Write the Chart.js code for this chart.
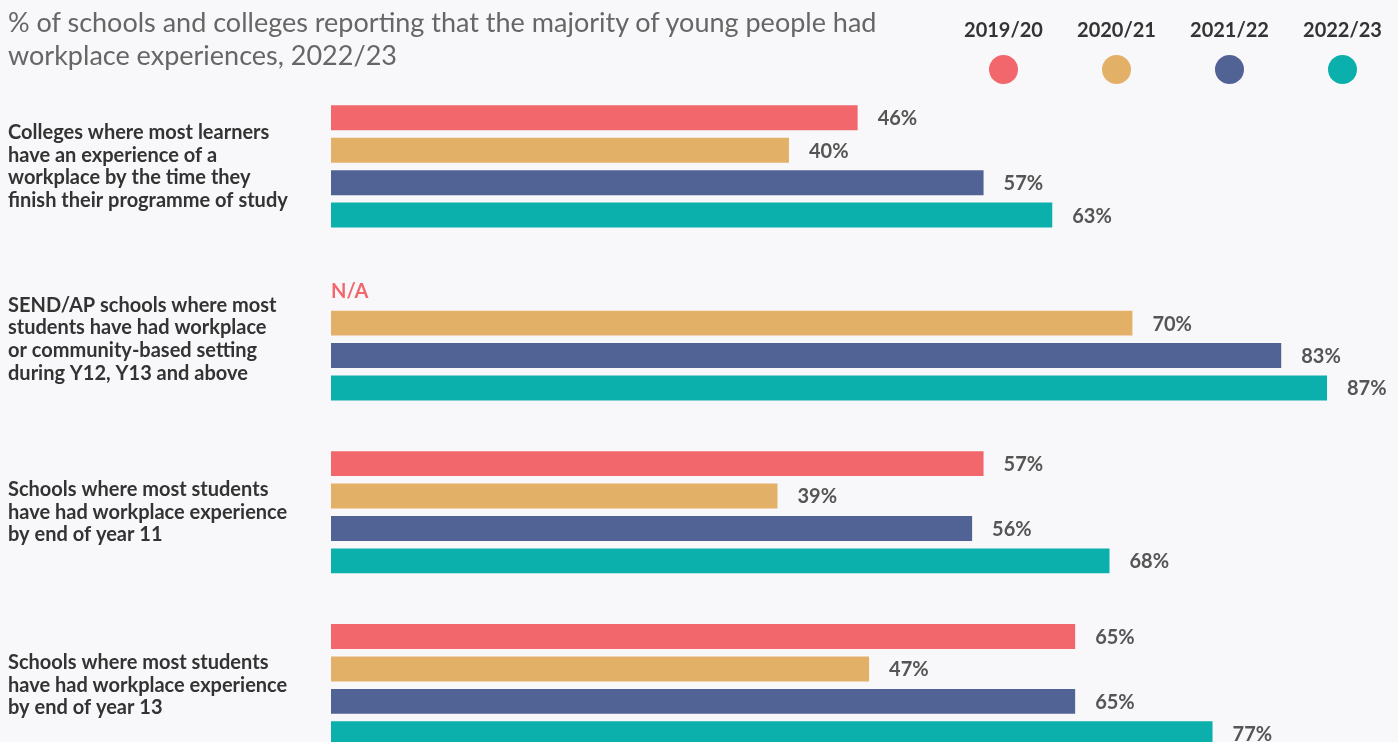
<!DOCTYPE html>
<html>
<head>
<meta charset="utf-8">
<script src="https://cdn.jsdelivr.net/npm/chart.js@4"></script>
<style>
  html, body { margin: 0; padding: 0; background: #f8f8fa; overflow: hidden; width: 1398px; height: 742px; }
  #title { position: absolute; left: 8px; top: 5px; font: 27px/33px Lato, sans-serif; color: #666; z-index: 2; }
  #legend { position: absolute; left: 947px; top: 17px; display: flex; z-index: 2; }
  .item { width: 113px; text-align: center; font: bold 20px Lato, sans-serif; color: #333; }
  .dot { width: 29px; height: 29px; border-radius: 50%; margin: 14px auto 0; }
  #chart { position: absolute; left: 0; top: 0; }
</style>
</head>
<body>
<div id="title">% of schools and colleges reporting that the majority of young people had<br>workplace experiences, 2022/23</div>
<div id="legend"></div>
<canvas id="chart" width="1398" height="820"></canvas>
<script>
// categories (multi-line labels)
const categories = [
    ["Colleges where most learners", "have an experience of a", "workplace by the time they", "finish their programme of study"],
    ["SEND/AP schools where most", "students have had workplace", "or community-based setting", "during Y12, Y13 and above"],
    ["Schools where most students", "have had workplace experience", "by end of year 11"],
    ["Schools where most students", "have had workplace experience", "by end of year 13"]
];
const years = ["2019/20", "2020/21", "2021/22", "2022/23"];
const colours = ["#f2676c", "#e3b068", "#516294", "#0bafab"];

const y2019 = [46, null, 57, 65];
const y2020 = [40, 70, 39, 47];
const y2021 = [57, 83, 56, 65];
const y2022 = [63, 87, 68, 77];
const series = [y2019, y2020, y2021, y2022];

// html legend, labels above dots
let legend = document.getElementById("legend");
years.forEach((yr, i) => {
    let el = document.createElement("div");
    el.className = "item";
    el.innerHTML = `<div>${yr}</div><div class="dot" style="background:${colours[i]}"></div>`;
    legend.appendChild(el);
});

// value labels at the end of each bar, N/A for missing
const valueLabels = {
    id: "valueLabels",
    afterDatasetsDraw(chart) {
        let ctx = chart.ctx;
        let x0 = chart.scales.x.getPixelForValue(0);
        ctx.save();
        ctx.font = "bold 20px Lato, sans-serif";
        ctx.textBaseline = "middle";
        ctx.textAlign = "left";
        chart.data.datasets.forEach((ds, di) => {
            chart.getDatasetMeta(di).data.forEach((bar, i) => {
                let v = ds.data[i];
                if (v === null) {
                    ctx.fillStyle = ds.backgroundColor;
                    ctx.fillText("N/A", x0, bar.y + 1);
                } else {
                    ctx.fillStyle = "#555";
                    ctx.fillText(v + "%", bar.x + 20, bar.y + 1);
                }
            });
        });
        ctx.restore();
    }
};

new Chart(document.getElementById("chart"), {
    type: "bar",
    data: {
        labels: categories,
        datasets: series.map((d, i) => ({
            label: years[i],
            data: d,
            backgroundColor: colours[i],
            categoryPercentage: 0.75,
            barPercentage: 0.77
        }))
    },
    options: {
        indexAxis: "y",
        responsive: false,
        animation: false,
        layout: { padding: { left: 8, top: 80, bottom: 20, right: 0 } },
        plugins: {
            legend: { display: false },
            tooltip: { enabled: false }
        },
        scales: {
            x: { display: false, min: 0, max: 93.2 },
            y: {
                grid: { display: false },
                border: { display: false },
                ticks: {
                    crossAlign: "far",
                    color: "#333",
                    font: { family: "Lato", size: 20, weight: "bold", lineHeight: 1.135 }
                },
                afterFit: (axis) => { axis.width = 323; }
            }
        }
    },
    plugins: [valueLabels]
});
</script>
</body>
</html>
